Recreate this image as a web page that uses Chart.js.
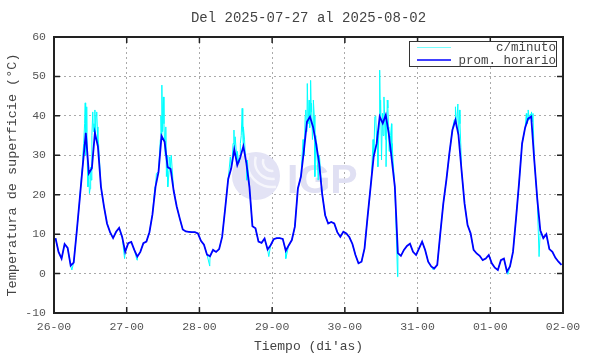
<!DOCTYPE html>
<html lang="es">
<head>
<meta charset="UTF-8">
<title>Temperatura de superficie</title>
<script src="https://cdn.jsdelivr.net/npm/chart.js@4.4.0/dist/chart.umd.min.js"></script>
<style>
  body { margin: 0; background: #fff; }
</style>
</head>
<body>
<canvas id="chart" width="590" height="354"></canvas>
<script>
// eje x en horas desde 26-00
const xTickLabels = ['26-00', '27-00', '28-00', '29-00', '30-00', '31-00', '01-00', '02-00'];
const yTicks = [-10, 0, 10, 20, 30, 40, 50, 60];

// promedio horario (°C), un valor por hora
const hourlyTemp = [
  // 26
  9.0, 5.5, 3.8, 7.5, 6.5, 2.0, 2.8, 10.6, 19, 27.5, 35.7, 25.4, 26.7, 35.7, 32.2, 22, 17, 12.7, 10.5, 9.0, 10.6, 11.6, 9.3, 5.5,
  // 27
  7.7, 8.0, 6.0, 4.3, 5.5, 7.7, 8.1, 10.5, 15, 22, 25.8, 34.9, 33.4, 27, 26.5, 21, 17, 14, 11.2, 10.7, 10.6, 10.5, 10.5, 10.2,
  // 28
  8.3, 7.3, 4.8, 4.4, 6, 5.5, 6.2, 9.3, 16.5, 24, 26.7, 31.5, 27.5, 29.5, 32.3, 28, 22, 12, 11.5, 8.1, 7.8, 8.9, 6.1, 7.2,
  // 29
  8.7, 9.0, 9.0, 8.8, 5.8, 7.2, 8.5, 11.9, 21.6, 24.6, 31.3, 38.5, 39.8, 37.2, 33, 28, 20.3, 14.8, 12.7, 13.1, 12.7, 10.5, 9.3, 10.6,
  // 30
  10.2, 9.2, 7.5, 4.7, 2.6, 3, 6.4, 14.4, 22, 29.6, 33, 39.8, 38.1, 40.2, 35.5, 28.8, 22, 5.2, 4.5, 6, 7, 7.6, 5.5, 4.7,
  // 31
  6.4, 8.1, 6, 3, 1.8, 1.3, 2.2, 10.2, 17.8, 23.7, 30.5, 36.4, 38.9, 35.1, 26.3, 17.8, 12.3, 10.2, 6, 5.1, 4.5, 3.4, 3.8, 4.7,
  // 01
  2.6, 1.5, 0.9, 3.4, 3.8, 0.5, 1.8, 5.5, 14, 23, 33, 37, 39.3, 39.8, 29, 19, 11, 9, 10, 6.2, 5.5, 4, 3, 2.2
];

// lecturas por minuto que se apartan del promedio (hora, °C)
const minuteHours = [
  5.9, 9.2, 9.5, 9.8, 10.1, 10.3, 10.4, 10.6, 10.8, 11.0, 11.2, 11.4, 11.7, 11.9, 12.1, 12.3, 12.5, 12.8, 13.0, 13.2, 13.5, 13.7, 13.9, 14.1, 14.3, 14.5, 14.7, 15.0, 15.5, 23.3, 27.4,
  33.3, 33.8, 34.8, 35.1, 35.3, 35.6, 35.8, 35.9, 36.1, 36.3, 36.5, 36.7, 36.9, 37.1, 37.4, 37.6, 38.0, 38.2, 38.5, 38.7, 51.4,
  58.2, 58.5, 58.8, 59.1, 59.4, 59.6, 59.8, 60.5, 61.0, 61.5, 61.8, 62.1, 62.3, 62.5, 62.9, 63.2, 63.6, 63.8, 70.9, 76.5,
  82.2, 82.6, 82.9, 83.1, 83.3, 83.6, 83.9, 84.2, 84.4, 84.7, 84.9, 85.0, 85.3, 85.6, 85.9, 86.1, 86.4, 86.7, 87.0, 87.2, 87.6,
  104.8, 105.3, 105.6, 105.9, 106.2, 106.5, 106.7, 106.9, 107.2, 107.5, 107.7, 107.8, 108.1, 108.4, 108.6, 108.9, 109.2, 109.4, 109.6, 110.0, 110.2, 110.4, 110.6, 110.8, 111.1, 111.4, 111.6, 111.9, 113.4,
  125.2, 132.1, 132.5, 132.8, 133.3, 133.6, 133.8, 134.0, 134.3, 135.4,
  149.8, 155.9, 156.1, 156.5, 156.9, 157.3, 157.6, 157.8, 158.1, 160.1
];
const minuteTemp = [
  0.9, 26, 30, 33, 38, 43.3, 30, 36, 42.3, 28, 22, 24, 20.3, 21.5, 27, 23.7, 35, 41, 36, 38, 41.5, 35, 40, 41, 37.2, 34, 33, 29, 22, 3.8, 3.4,
  22, 25.4, 30, 34, 40, 47.8, 36, 42, 44.8, 38, 33, 30, 37.2, 24.6, 30, 22, 26, 29.6, 27.5, 30, 1.9,
  29.6, 27, 28.8, 33, 36.4, 31, 34.7, 31, 28, 33, 35, 41.9, 36, 37.2, 33.9, 29, 23.7, 28.8, 4.3, 3.8,
  34, 30, 40, 41.5, 36, 48.2, 38, 44, 37, 49, 41, 43.2, 34, 44, 40, 24.6, 35, 31.3, 27, 23.7, 30,
  25, 34, 30, 39.8, 40, 33.9, 36, 27.1, 35, 51.6, 40, 44, 28.8, 40.6, 35, 44.8, 38, 34, 27.1, 44, 42, 37.2, 31, 33, 35, 38, 33, 28.8, -0.8,
  0.9, 39, 42.3, 37, 43, 36, 41.5, 38, 32, 18.6,
  -0.2, 40.6, 38, 41.5, 39, 40.5, 41, 38.5, 40.6, 4.3
];

const hourlyPoints = hourlyTemp.map((v, i) => ({ x: i + 0.5, y: v }));
const minutePoints = hourlyPoints
  .concat(minuteHours.map((h, i) => ({ x: h, y: minuteTemp[i] })))
  .sort((a, b) => a.x - b.x);

const monoFont = 'Liberation Mono';
const textGray = '#555';

const decor = {
  id: 'decor',
  beforeDatasetsDraw(chart) {
    const ctx = chart.ctx;
    ctx.save();
    // logo IGP de fondo
    ctx.beginPath();
    ctx.arc(256, 176, 24, 0, Math.PI * 2);
    ctx.fillStyle = '#e3e3f5';
    ctx.fill();
    ctx.clip();
    ctx.strokeStyle = '#f6f6fc';
    ctx.lineWidth = 2.5;
    [9, 17, 25].forEach(r => {
      ctx.beginPath();
      ctx.arc(272, 162, r, Math.PI * 0.45, Math.PI * 1.1);
      ctx.stroke();
    });
    ctx.restore();
    ctx.save();
    ctx.font = 'bold 41px "Liberation Sans"';
    ctx.fillStyle = '#e0e0f3';
    ctx.textBaseline = 'alphabetic';
    ctx.fillText('IGP', 287, 193);
    ctx.restore();
  },
  afterDraw(chart) {
    const ctx = chart.ctx;
    const a = chart.chartArea;
    const xs = chart.scales.x, ys = chart.scales.y;
    ctx.save();
    // marco
    ctx.strokeStyle = '#222';
    ctx.lineWidth = 2;
    ctx.strokeRect(a.left, a.top, a.right - a.left, a.bottom - a.top);
    // marcas hacia adentro
    ctx.lineWidth = 1.5;
    ctx.beginPath();
    yTicks.forEach(v => {
      const y = ys.getPixelForValue(v);
      ctx.moveTo(a.left, y); ctx.lineTo(a.left + 6, y);
      ctx.moveTo(a.right, y); ctx.lineTo(a.right - 6, y);
    });
    xTickLabels.forEach((l, i) => {
      const x = xs.getPixelForValue(i * 24);
      ctx.moveTo(x, a.bottom); ctx.lineTo(x, a.bottom - 6);
      ctx.moveTo(x, a.top); ctx.lineTo(x, a.top + 6);
    });
    ctx.stroke();
    // titulo
    ctx.fillStyle = '#444';
    ctx.font = '14px "' + monoFont + '"';
    ctx.textAlign = 'center';
    ctx.textBaseline = 'middle';
    ctx.fillText('Del 2025-07-27 al 2025-08-02', (a.left + a.right) / 2, 18);
    // leyenda
    ctx.fillStyle = '#fff';
    ctx.fillRect(409.5, 41.5, 147, 25);
    ctx.strokeStyle = '#333';
    ctx.lineWidth = 1;
    ctx.strokeRect(409.5, 41.5, 147, 25);
    ctx.strokeStyle = '#7ff';
    ctx.beginPath(); ctx.moveTo(417, 47.5); ctx.lineTo(451, 47.5); ctx.stroke();
    ctx.strokeStyle = '#0000ff';
    ctx.lineWidth = 1.5;
    ctx.beginPath(); ctx.moveTo(417, 60); ctx.lineTo(451, 60); ctx.stroke();
    ctx.fillStyle = '#444';
    ctx.font = '12.5px "' + monoFont + '"';
    ctx.textAlign = 'right';
    ctx.fillText('c/minuto', 556, 48);
    ctx.fillText('prom. horario', 556, 60.5);
    ctx.restore();
  }
};

new Chart(document.getElementById('chart'), {
  type: 'line',
  data: {
    datasets: [
      {
        label: 'prom. horario',
        data: hourlyPoints,
        borderColor: '#0000ff',
        borderWidth: 1.8,
        pointRadius: 0,
        tension: 0,
        order: 0
      },
      {
        label: 'c/minuto',
        data: minutePoints,
        borderColor: '#00ffff',
        borderWidth: 1,
        pointRadius: 0,
        tension: 0,
        order: 1
      }
    ]
  },
  options: {
    responsive: false,
    animation: false,
    devicePixelRatio: 1,
    layout: { padding: { top: 37, right: 27, left: 0, bottom: 0 } },
    plugins: {
      legend: { display: false },
      tooltip: { enabled: false }
    },
    scales: {
      x: {
        type: 'linear',
        min: 0,
        max: 168,
        afterFit: s => { s.height = 41; },
        afterBuildTicks: s => { s.ticks = xTickLabels.map((l, i) => ({ value: i * 24 })); },
        ticks: {
          callback: v => xTickLabels[Math.round(v / 24)],
          font: { family: monoFont, size: 11.5 },
          color: textGray,
          padding: 7,
          maxRotation: 0,
          autoSkip: false
        },
        grid: { color: '#aaa', lineWidth: 1, drawTicks: false },
        border: { display: false, dash: [2, 3] },
        title: {
          display: true,
          text: "Tiempo (di'as)",
          font: { family: monoFont, size: 13 },
          color: '#444',
          padding: { top: 0, bottom: 0 }
        }
      },
      y: {
        min: -10,
        max: 60,
        afterFit: s => { s.width = 54; },
        afterBuildTicks: s => { s.ticks = yTicks.map(v => ({ value: v })); },
        ticks: {
          font: { family: monoFont, size: 11.5 },
          color: textGray,
          padding: 8
        },
        grid: { color: '#aaa', lineWidth: 1, drawTicks: false },
        border: { display: false, dash: [2, 3] },
        title: {
          display: true,
          text: 'Temperatura de superficie (°C)',
          font: { family: monoFont, size: 13.5 },
          color: '#444',
          padding: { top: 4, bottom: 0 }
        }
      }
    }
  },
  plugins: [decor]
});
</script>
</body>
</html>
